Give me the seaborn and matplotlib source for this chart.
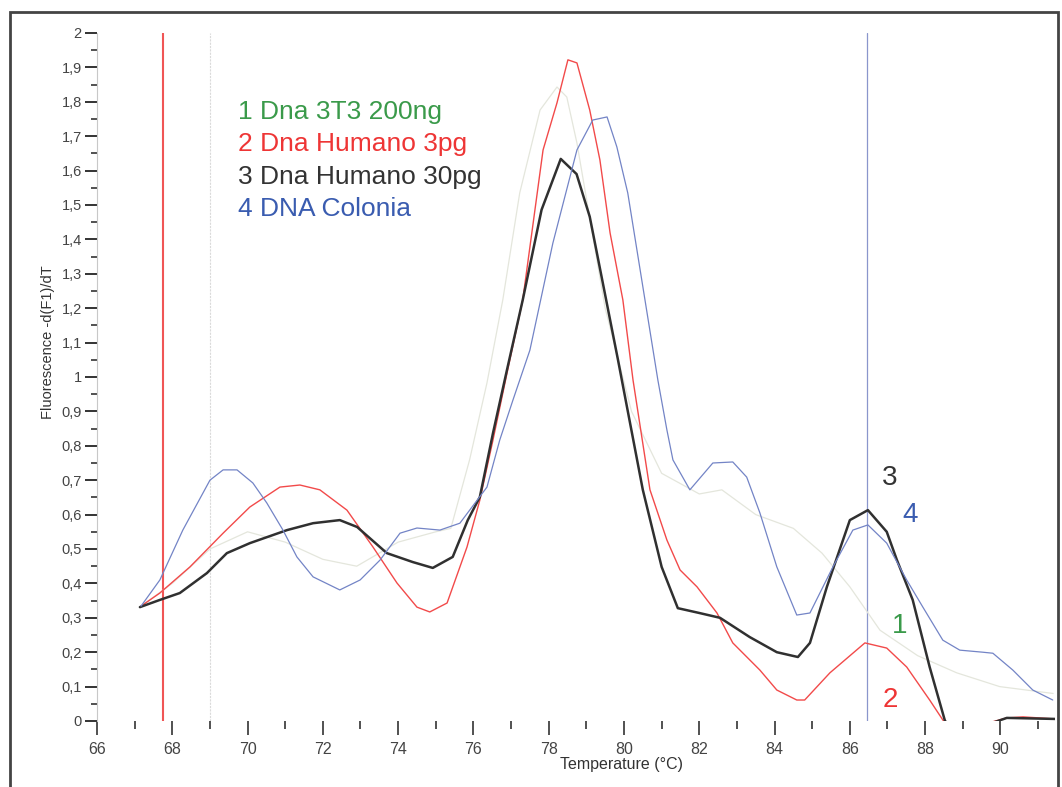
import matplotlib
matplotlib.use("Agg")
import matplotlib.pyplot as plt
import matplotlib.patches as mpatches
from matplotlib.ticker import MultipleLocator, FuncFormatter
import seaborn as sns
import pandas as pd

# ---------------- data ----------------
series_names = ["1 Dna 3T3 200ng", "2 Dna Humano 3pg", "3 Dna Humano 30pg", "4 DNA Colonia"]

temp_1 = [67.17, 68.0, 69.0, 70.0, 71.0, 72.0, 72.9, 74.0, 75.0, 75.4, 75.9, 76.36, 76.78, 77.23, 77.77,
          78.22, 78.48, 78.75, 79.5, 80.2, 81.0, 82.0, 82.6, 83.5, 84.5, 85.26, 86.0, 86.8, 87.8,
          88.84, 89.98, 91.4]
fluo_1 = [0.334, 0.40, 0.50, 0.55, 0.52, 0.47, 0.45, 0.52, 0.55, 0.56, 0.76, 0.983, 1.224, 1.535, 1.776,
          1.843, 1.814, 1.68, 1.2, 0.9, 0.72, 0.66, 0.672, 0.60, 0.56, 0.488, 0.39, 0.264, 0.19,
          0.14, 0.10, 0.08]

temp_2 = [67.17, 67.67, 68.47, 69.35, 70.06, 70.86, 71.39, 71.92, 72.64, 73.33, 73.97, 74.5, 74.84, 75.3,
          75.83, 76.17, 76.52, 76.89, 77.31, 77.85, 78.22, 78.51, 78.75, 79.09, 79.36, 79.63, 79.97,
          80.24, 80.69, 81.14, 81.49, 81.94, 82.47, 82.89, 83.61, 84.06, 84.59, 84.8, 85.47, 86.4,
          86.98, 87.51, 88.12, 88.47, 88.9, 89.53, 90.17, 90.6, 91.45]
fluo_2 = [0.334, 0.372, 0.448, 0.546, 0.622, 0.68, 0.686, 0.672, 0.613, 0.506, 0.401, 0.331, 0.317, 0.343,
          0.506, 0.642, 0.817, 1.01, 1.224, 1.66, 1.797, 1.922, 1.913, 1.776, 1.631, 1.419, 1.224,
          0.991, 0.672, 0.526, 0.439, 0.39, 0.314, 0.227, 0.148, 0.09, 0.061, 0.061, 0.14, 0.227,
          0.212, 0.157, 0.061, 0.003, -0.05, -0.01, 0.009, 0.012, 0.006]

temp_3 = [67.14, 67.67, 68.2, 68.92, 69.45, 70.06, 71.05, 71.74, 72.45, 72.91, 73.7, 74.39, 74.92, 75.45,
          75.85, 76.17, 76.52, 76.89, 77.31, 77.81, 78.32, 78.74, 79.09, 79.84, 80.5, 81.0, 81.43,
          82.0, 82.55, 83.34, 84.06, 84.62, 84.94, 85.39, 86.0, 86.48, 86.98, 87.25, 87.67, 88.12,
          88.52, 88.9, 89.8, 90.17, 91.45]
fluo_3 = [0.331, 0.352, 0.372, 0.43, 0.488, 0.517, 0.555, 0.575, 0.584, 0.564, 0.488, 0.462, 0.445, 0.477,
          0.584, 0.651, 0.837, 1.02, 1.224, 1.486, 1.634, 1.59, 1.466, 1.05, 0.672, 0.448, 0.328,
          0.314, 0.30, 0.244, 0.20, 0.186, 0.227, 0.39, 0.584, 0.613, 0.55, 0.468, 0.352, 0.157,
          0.003, -0.08, -0.005, 0.009, 0.006]

temp_4 = [67.17, 67.67, 68.28, 69.0, 69.35, 69.72, 70.14, 70.51, 70.94, 71.31, 71.74, 72.45, 72.99, 73.52,
          74.05, 74.5, 75.11, 75.64, 76.36, 76.7, 77.05, 77.5, 78.11, 78.75, 79.17, 79.55, 79.81,
          80.1, 80.9, 81.14, 81.3, 81.75, 82.36, 82.89, 83.26, 83.61, 84.06, 84.59, 84.94, 85.55,
          86.08, 86.48, 86.98, 87.51, 87.94, 88.47, 88.92, 89.53, 89.8, 90.33, 90.86, 91.39]
fluo_4 = [0.334, 0.41, 0.555, 0.70, 0.73, 0.73, 0.692, 0.634, 0.555, 0.477, 0.419, 0.381, 0.41, 0.468,
          0.546, 0.561, 0.555, 0.575, 0.68, 0.817, 0.933, 1.078, 1.389, 1.66, 1.747, 1.756, 1.669,
          1.535, 0.991, 0.846, 0.759, 0.672, 0.75, 0.753, 0.709, 0.605, 0.448, 0.308, 0.314, 0.448,
          0.555, 0.57, 0.517, 0.41, 0.331, 0.235, 0.206, 0.20, 0.197, 0.148, 0.09, 0.061]

marker_lines = [67.75, 69.0, 86.45]          # vertical cursor lines
x_ticks = list(range(66, 92, 2))
y_ticks = [0, 0.1, 0.2, 0.3, 0.4, 0.5, 0.6, 0.7, 0.8, 0.9, 1.0, 1.1, 1.2, 1.3, 1.4, 1.5, 1.6, 1.7, 1.8, 1.9, 2.0]

# ---------------- style ----------------
sns.set_theme(style="white")
plt.rcParams["font.family"] = ["Liberation Sans", "DejaVu Sans"]

line_colors = ["#e4e6dc", "#f24a4a", "#303030", "#7384c6"]
text_colors = ["#3a9a4a", "#ee3535", "#333333", "#3a5cb0"]
line_widths = [0.9, 1.0, 1.8, 0.9]

fig = plt.figure(figsize=(10.62, 7.87), dpi=100)
ax = fig.add_axes([97 / 1062, 1 - 721 / 787, (1055 - 97) / 1062, (721 - 33) / 787])

# outer scan frame
fig.patches.append(mpatches.Rectangle((10 / 1062, -0.02), (1058 - 10) / 1062, (787 - 12) / 787 + 0.02,
                                      transform=fig.transFigure, fill=False,
                                      edgecolor="#444444", linewidth=2.0))

# vertical cursor lines
ax.axvline(marker_lines[0], color="#f05555", lw=1.5, zorder=1)
ax.axvline(marker_lines[1], color="#dadada", lw=0.8, ls=(0, (2, 1)), zorder=1)
ax.axvline(marker_lines[2], color="#8a96cc", lw=0.9, zorder=1)

temps = [temp_1, temp_2, temp_3, temp_4]
fluos = [fluo_1, fluo_2, fluo_3, fluo_4]
order = [0, 3, 1, 2]
for i in order:
    df = pd.DataFrame({"T": temps[i], "F": fluos[i]})
    sns.lineplot(data=df, x="T", y="F", ax=ax, color=line_colors[i], lw=line_widths[i],
                 sort=False, estimator=None, zorder=2 + i)

ax.set_xlim(66.0, 91.45)
ax.set_ylim(0, 2.0)

# ticks
ax.set_xticks(x_ticks)
ax.xaxis.set_minor_locator(MultipleLocator(1))
ax.set_yticks(y_ticks)
ax.yaxis.set_minor_locator(MultipleLocator(0.05))
ax.yaxis.set_major_formatter(FuncFormatter(lambda v, p: ("%g" % round(v, 2)).replace(".", ",")))
ax.tick_params(axis="both", which="both", direction="out", colors="#333333", labelcolor="#444444")
ax.tick_params(axis="x", which="major", length=10, width=1.2, pad=5, labelsize=11.5)
ax.tick_params(axis="x", which="minor", length=6, width=1.2)
ax.tick_params(axis="y", which="major", length=9, width=1.4, pad=2, labelsize=10.5)
ax.tick_params(axis="y", which="minor", length=4, width=1.2)
ax.tick_params(axis="x", which="both", bottom=True)
ax.tick_params(axis="y", which="both", left=True)

for s in ["top", "right", "bottom"]:
    ax.spines[s].set_visible(False)
ax.spines["left"].set_color("#c8c8c8")
ax.spines["left"].set_linestyle((0, (1, 1)))
ax.spines["left"].set_linewidth(0.8)

ax.set_xlabel("Temperature (°C)", fontsize=11.5, color="#333333")
ax.xaxis.set_label_coords(0.548, -0.052)
ax.set_ylabel("Fluorescence -d(F1)/dT", fontsize=10.5, color="#333333")
ax.yaxis.set_label_coords(-0.044, 0.55)

# legend-like colored text
for k, name in enumerate(series_names):
    fig.text(238 / 1062, 1 - (112 + 32.3 * k) / 787, name, color=text_colors[k],
             fontsize=19, va="center", ha="left")

# curve number labels
for lbl, (px, py), c in zip(["3", "4", "1", "2"],
                            [(890, 478), (910, 515), (900, 626), (890, 700)],
                            [text_colors[2], text_colors[3], text_colors[0], text_colors[1]]):
    fig.text(px / 1062, 1 - py / 787, lbl, color=c, fontsize=20, ha="center", va="center")

fig.savefig("out.png", dpi=100)
